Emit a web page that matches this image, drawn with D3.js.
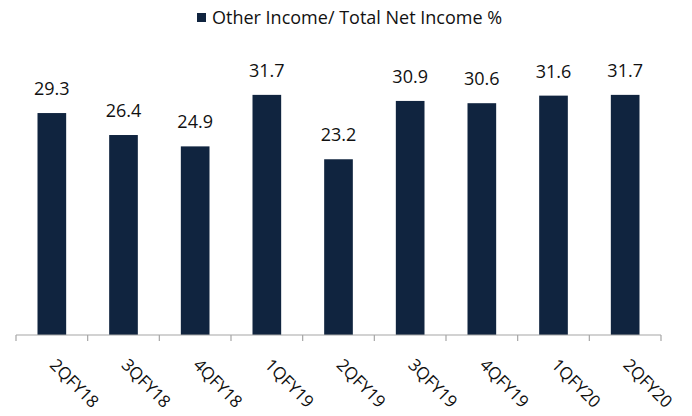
<!DOCTYPE html>
<html>
<head>
<meta charset="utf-8">
<script src="https://cdn.jsdelivr.net/npm/d3@7"></script>
<style>
body { margin: 0; background: #fff; }
svg text { font-family: "Open Sans", "Liberation Sans", sans-serif; fill: #111; }
</style>
</head>
<body>
<div id="chart"></div>
<script>
var quarters = ["2QFY18","3QFY18","4QFY18","1QFY19","2QFY19","3QFY19","4QFY19","1QFY20","2QFY20"];
var ratio = [29.3, 26.4, 24.9, 31.7, 23.2, 30.9, 30.6, 31.6, 31.7];
var seriesName = "Other Income/ Total Net Income %";

var width = 692, height = 416;
var margin = {top: 32, right: 31, bottom: 81, left: 16};
var chartWidth = width - margin.left - margin.right;
var chartHeight = height - margin.top - margin.bottom;

var svg = d3.select("#chart").append("svg")
    .attr("width", width)
    .attr("height", height);

var g = svg.append("g")
    .attr("transform", `translate(${margin.left}, ${margin.top})`);

var xScale = d3.scaleBand()
    .domain(quarters)
    .range([0, chartWidth])
    .paddingInner(0.6)
    .paddingOuter(0.3);

var yScale = d3.scaleLinear()
    .domain([0, 40])
    .range([chartHeight, 0]);

// bars
g.selectAll(".bar")
    .data(quarters)
    .enter()
    .append("rect")
    .attr("class", "bar")
    .attr("x", d => xScale(d))
    .attr("y", (d, i) => yScale(ratio[i]))
    .attr("width", xScale.bandwidth())
    .attr("height", (d, i) => chartHeight - yScale(ratio[i]))
    .attr("fill", "#10243f");

// value labels
g.selectAll(".val")
    .data(quarters)
    .enter()
    .append("text")
    .attr("class", "val")
    .attr("x", d => xScale(d) + xScale.bandwidth() / 2)
    .attr("y", (d, i) => yScale(ratio[i]) - 18)
    .attr("text-anchor", "middle")
    .style("font-size", "18px")
    .text((d, i) => ratio[i].toFixed(1));

// x axis: line + ticks between categories
var step = xScale.step();
var axis = g.append("g").attr("transform", `translate(0,${chartHeight})`);
axis.append("line")
    .attr("x1", 0).attr("x2", chartWidth)
    .attr("stroke", "#a6a6a6").attr("stroke-width", 1.2);
axis.selectAll(".tick")
    .data(d3.range(quarters.length + 1))
    .enter()
    .append("line")
    .attr("x1", i => i * step).attr("x2", i => i * step)
    .attr("y1", 0).attr("y2", 6)
    .attr("stroke", "#a6a6a6").attr("stroke-width", 1.2);

axis.selectAll(".lbl")
    .data(quarters)
    .enter()
    .append("text")
    .attr("class", "lbl")
    .attr("transform", d => `translate(${xScale(d) + xScale.bandwidth() / 2 - 3}, ${31}) rotate(45)`)
    .style("font-size", "17px")
    .text(d => d);

// legend
var legend = svg.append("g").attr("transform", "translate(197, 13)");
legend.append("rect")
    .attr("width", 9).attr("height", 9)
    .attr("fill", "#10243f");
legend.append("text")
    .attr("x", 15).attr("y", 10.5)
    .style("font-size", "18px")
    .text(seriesName);
</script>
</body>
</html>
